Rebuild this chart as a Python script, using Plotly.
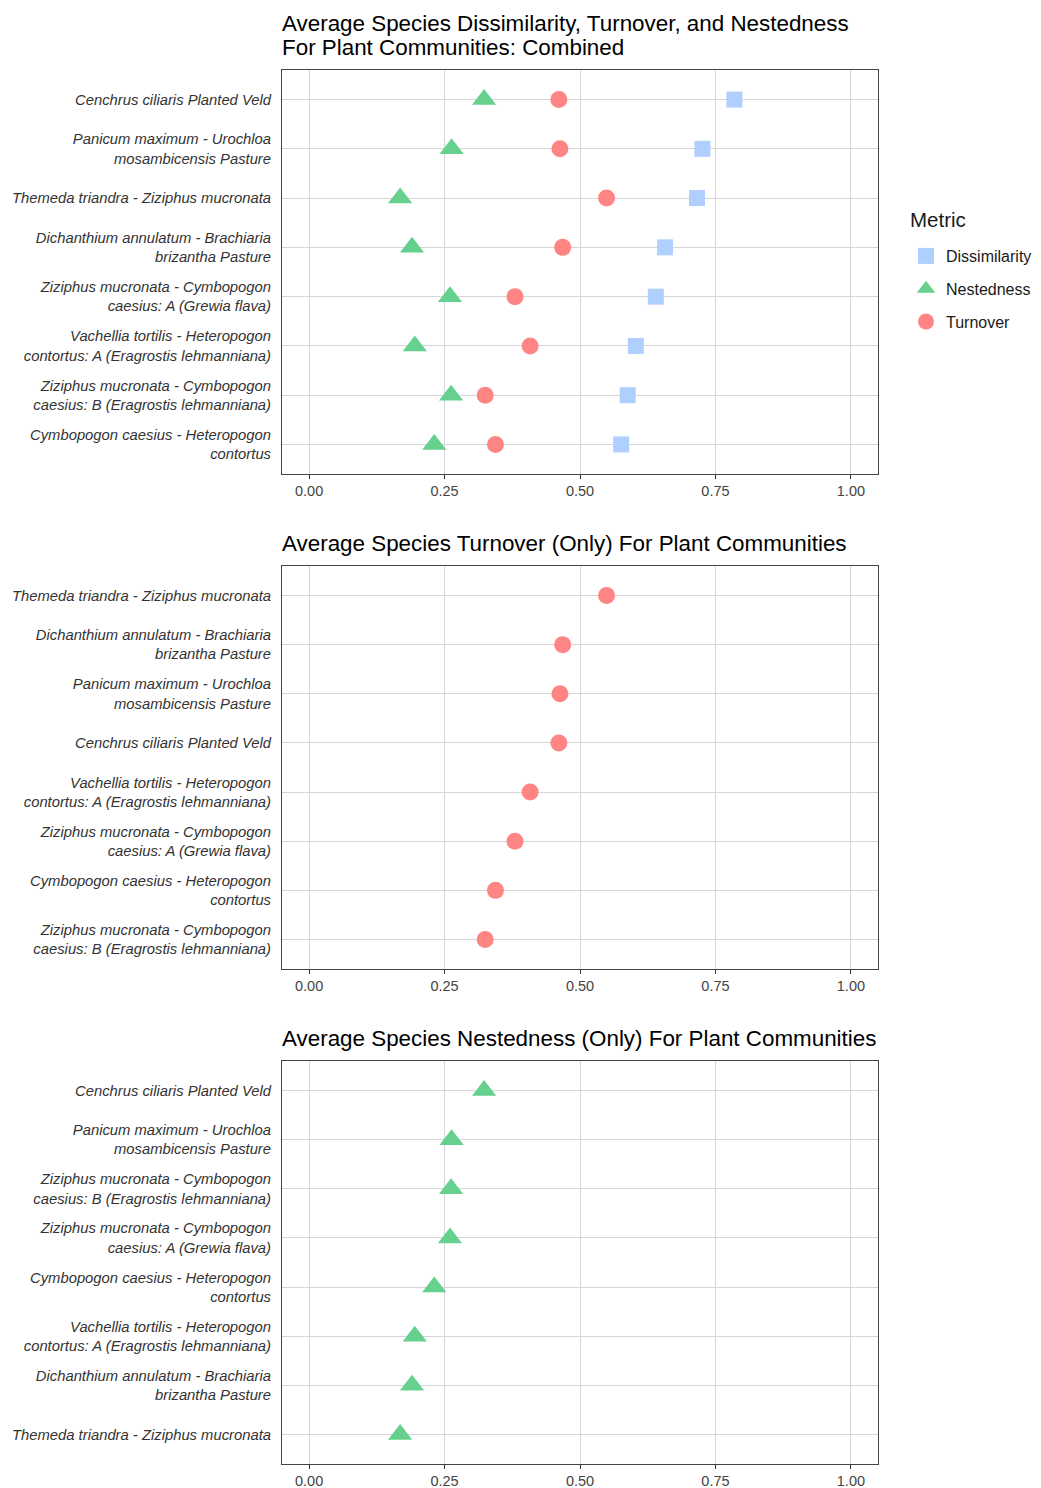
import plotly.graph_objects as go

# Plant communities and their average beta-diversity components
communities = [
    "Cenchrus ciliaris Planted Veld",
    "Panicum maximum - Urochloa<br>mosambicensis Pasture",
    "Themeda triandra - Ziziphus mucronata",
    "Dichanthium annulatum - Brachiaria<br>brizantha Pasture",
    "Ziziphus mucronata - Cymbopogon<br>caesius: A (Grewia flava)",
    "Vachellia tortilis - Heteropogon<br>contortus: A (Eragrostis lehmanniana)",
    "Ziziphus mucronata - Cymbopogon<br>caesius: B (Eragrostis lehmanniana)",
    "Cymbopogon caesius - Heteropogon<br>contortus",
]
dissimilarity = [0.785, 0.726, 0.716, 0.657, 0.640, 0.603, 0.588, 0.576]
turnover = [0.461, 0.463, 0.549, 0.468, 0.380, 0.408, 0.325, 0.344]
nestedness = [0.323, 0.263, 0.168, 0.190, 0.260, 0.195, 0.262, 0.231]

x_ticks = [0.0, 0.25, 0.5, 0.75, 1.0]
x_tick_labels = ["0.00", "0.25", "0.50", "0.75", "1.00"]

# Each panel title as a list of lines
titles = [
    ["Average Species Dissimilarity, Turnover, and Nestedness",
     "For Plant Communities: Combined"],
    ["Average Species Turnover (Only) For Plant Communities"],
    ["Average Species Nestedness (Only) For Plant Communities"],
]
legend_title = "Metric"

COL_D = "#AFCFFF"
COL_N = "#66D08E"
COL_T = "#FF8585"
FONT = "Liberation Sans, Arial, sans-serif"

W, H = 1041, 1488
x_dom = [282 / W, 878 / W]
panels_px = [(70, 474), (566, 969), (1061, 1464)]
y_doms = [[1 - b / H, 1 - t / H] for t, b in panels_px]
title_centers = [[23, 47], [543], [1038]]


def order_by(values):
    idx = sorted(range(len(values)), key=lambda i: -values[i])
    return [communities[i] for i in idx]


orders = [order_by(dissimilarity), order_by(turnover), order_by(nestedness)]

fig = go.Figure()

# Panel 1: all three metrics
fig.add_trace(go.Scatter(
    x=dissimilarity, y=communities, mode="markers", name="Dissimilarity",
    legendgroup="d",
    marker=dict(symbol="square", color=COL_D, size=16, line=dict(width=0)),
    xaxis="x", yaxis="y", legendrank=1))
fig.add_trace(go.Scatter(
    x=nestedness, y=communities, mode="markers", name="Nestedness",
    legendgroup="n",
    marker=dict(symbol="triangle-up", color=COL_N, size=21, line=dict(width=0)),
    xaxis="x", yaxis="y", legendrank=2))
fig.add_trace(go.Scatter(
    x=turnover, y=communities, mode="markers", name="Turnover",
    legendgroup="t",
    marker=dict(symbol="circle", color=COL_T, size=17, line=dict(width=0)),
    xaxis="x", yaxis="y", legendrank=3))

# Panel 2: turnover only
fig.add_trace(go.Scatter(
    x=turnover, y=communities, mode="markers", showlegend=False,
    marker=dict(symbol="circle", color=COL_T, size=17, line=dict(width=0)),
    xaxis="x2", yaxis="y2"))

# Panel 3: nestedness only
fig.add_trace(go.Scatter(
    x=nestedness, y=communities, mode="markers", showlegend=False,
    marker=dict(symbol="triangle-up", color=COL_N, size=21, line=dict(width=0)),
    xaxis="x3", yaxis="y3"))

layout = dict(
    width=W, height=H,
    margin=dict(l=0, r=0, t=0, b=0),
    paper_bgcolor="white", plot_bgcolor="white",
    font=dict(family=FONT, color="#333333"),
    showlegend=True,
    legend=dict(
        x=906 / W, y=1 - 239 / H, xanchor="left", yanchor="top",
        font=dict(size=16, color="#1a1a1a"),
        tracegroupgap=9, itemsizing="trace",
        bgcolor="rgba(0,0,0,0)",
    ),
)

for k in range(3):
    sx = "" if k == 0 else str(k + 1)
    layout["xaxis" + sx] = dict(
        domain=x_dom, anchor="y" + sx, range=[-0.05, 1.05],
        tickvals=x_ticks, ticktext=x_tick_labels,
        ticks="outside", ticklen=4, tickwidth=1, tickcolor="#333333",
        tickfont=dict(size=14.5, color="#444444"),
        showgrid=True, gridcolor="#d6d6d6", gridwidth=1,
        zeroline=False, showline=True, linecolor="#444444", linewidth=1,
        mirror=True,
    )
    layout["yaxis" + sx] = dict(
        domain=y_doms[k], anchor="x" + sx, type="category",
        categoryorder="array", categoryarray=orders[k],
        range=[len(communities) - 0.4, -0.6],
        ticks="", ticklabelstandoff=7,
        tickfont=dict(size=14.8, color="#333333", style="italic"),
        showgrid=True, gridcolor="#d6d6d6", gridwidth=1,
        zeroline=False, showline=True, linecolor="#444444", linewidth=1,
        mirror=True,
    )

annotations = []
for k, lines in enumerate(titles):
    for line, yc in zip(lines, title_centers[k]):
        annotations.append(dict(
            text=line, xref="paper", yref="paper",
            x=280 / W, y=1 - yc / H, xanchor="left", yanchor="middle",
            showarrow=False, align="left",
            font=dict(size=22.4, color="#000000"),
        ))
annotations.append(dict(
    text=legend_title, xref="paper", yref="paper",
    x=908 / W, y=1 - 219 / H, xanchor="left", yanchor="middle",
    showarrow=False, font=dict(size=20.5, color="#1a1a1a"),
))
layout["annotations"] = annotations

fig.update_layout(**layout)
fig.write_html("out.html")
